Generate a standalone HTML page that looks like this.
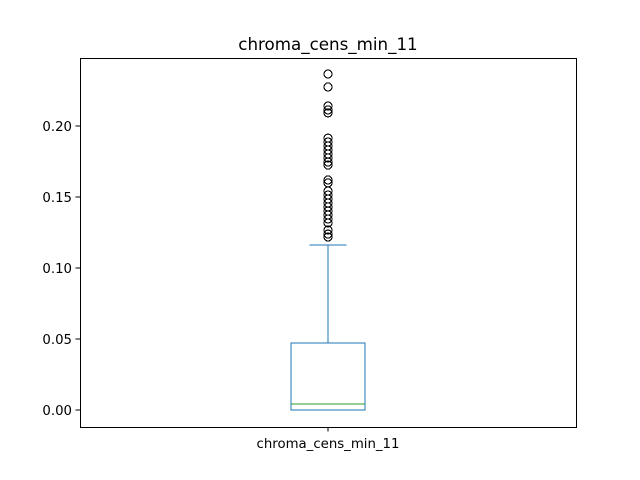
<!DOCTYPE html>
<html><head><meta charset="utf-8">
<style>
html,body{margin:0;padding:0;background:#fff;}
svg{display:block;font-family:"DejaVu Sans","Liberation Sans",sans-serif;}
</style></head>
<body>
<svg id="chart" width="640" height="480" viewBox="0 0 640 480">
<rect x="0" y="0" width="640" height="480" fill="#fff"/>
<text x="328" y="50" text-anchor="middle" font-size="16.7" fill="#000">chroma_cens_min_11</text>
<g id="plot"></g>
</svg>
<script>
const categories = ["chroma_cens_min_11"];
const yTicks = [0.00, 0.05, 0.10, 0.15, 0.20];
const yTickLabels = ["0.00", "0.05", "0.10", "0.15", "0.20"];
const boxStats = [0.0, 0.0, 0.0042, 0.0472, 0.1162]; // whiskerLow, q1, median, q3, whiskerHigh
const outliers = [0.2366, 0.2366, 0.2275, 0.2141, 0.2113, 0.2092, 0.1915, 0.1887, 0.1859, 0.1831, 0.1803, 0.1775, 0.1746, 0.1725, 0.1620, 0.1599, 0.1542, 0.1514, 0.1486, 0.1458, 0.1430, 0.1401, 0.1373, 0.1345, 0.1317, 0.1268, 0.1239, 0.1218];

const NS = "http://www.w3.org/2000/svg";
const L = 80, R = 576, T = 58, B = 427;
const yMin = -0.01197, yMax = 0.24789;
function y(v){ return B - (v - yMin) / (yMax - yMin) * (B - T); }
function x(i){ return L + (i + 0.5) * (R - L) / categories.length; }
const g = document.getElementById("plot");
function el(tag, attrs){ const e = document.createElementNS(NS, tag); for (const k in attrs) e.setAttribute(k, attrs[k]); g.appendChild(e); return e; }

const blue = "#1f77b4";
const cx = x(0), hw = 37, capw = 18.5;
const [wl, q1, med, q3, wh] = boxStats;

let e;
e = el("line", {x1: cx, x2: cx, y1: y(q3), y2: y(wh), stroke: blue, "stroke-width": 1.2});


e = el("line", {x1: cx, x2: cx, y1: y(q1), y2: y(wl), stroke: blue, "stroke-width": 1.2});


e = el("line", {x1: cx - capw, x2: cx + capw, y1: y(wh), y2: y(wh), stroke: blue, "stroke-width": 1.2});


e = el("line", {x1: cx - capw, x2: cx + capw, y1: y(wl), y2: y(wl), stroke: blue, "stroke-width": 1.2});


e = el("rect", {x: cx - hw, y: y(q3), width: 2 * hw, height: y(q1) - y(q3), fill: "none", stroke: blue, "stroke-width": 1.2});


e = el("line", {x1: cx - hw, x2: cx + hw, y1: y(med), y2: y(med), stroke: "#2ca02c", "stroke-width": 1.2});



outliers.forEach(v => {
  const c = el("circle", {cx: cx, cy: y(v), r: 4, fill: "none", stroke: "#000", "stroke-width": 1.1});
  
  
});

e = el("rect", {x: L + 0.5, y: T + 0.5, width: R - L, height: B - T, fill: "none", stroke: "#000", "stroke-width": 1});



yTicks.forEach((v, i) => {
  const t = el("line", {x1: L - 4.5, x2: L, y1: y(v), y2: y(v), stroke: "#000", "stroke-width": 1});
  
  
  const lb = el("text", {x: L - 8, y: y(v) + 4.8, "text-anchor": "end", "font-size": 13.3, fill: "#000"});
  lb.textContent = yTickLabels[i];
  
  
});

categories.forEach((c, i) => {
  const t = el("line", {x1: x(i), x2: x(i), y1: B, y2: B + 4.5, stroke: "#000", "stroke-width": 1});
  
  
  const lb = el("text", {x: x(i), y: B + 21, "text-anchor": "middle", "font-size": 13.3, fill: "#000"});
  lb.textContent = c;
  
  
});
g.setAttribute("shape-rendering", "crispEdges");
</script>
</body></html>
